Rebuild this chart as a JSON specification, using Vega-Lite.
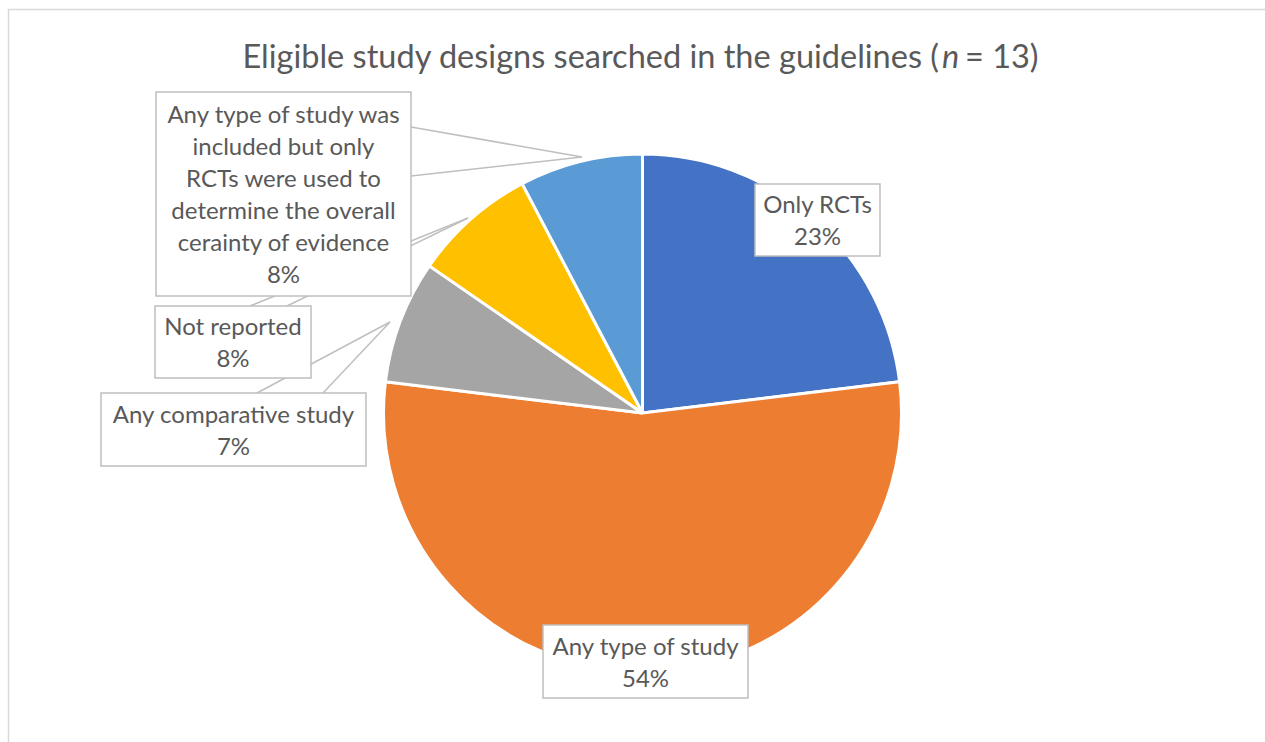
{
  "$schema": "https://vega.github.io/schema/vega-lite/v6.json",
  "width": 1265,
  "height": 742,
  "padding": 0,
  "autosize": {"type": "none"},
  "background": "white",
  "config": {"view": {"stroke": null}},
  "datasets": {
    "slices": [
      {"design": "Only RCTs", "count": 3, "idx": 1},
      {"design": "Any type of study", "count": 7, "idx": 2},
      {"design": "Any comparative study", "count": 1, "idx": 3},
      {"design": "Not reported", "count": 1, "idx": 4},
      {"design": "Any type of study was included but only RCTs were used to determine the overall cerainty of evidence", "count": 1, "idx": 5}
    ],
    "boxes": [
      {"label": "Only RCTs|23%", "bx1": 755, "bx2": 880, "by1": 184, "by2": 256},
      {"label": "Any type of study|54%", "bx1": 543, "bx2": 748, "by1": 625, "by2": 698},
      {"label": "Any comparative study|7%", "bx1": 101, "bx2": 366, "by1": 393, "by2": 466},
      {"label": "Not reported|8%", "bx1": 155, "bx2": 311, "by1": 306, "by2": 378},
      {"label": "Any type of study was|included but only|RCTs were used to|determine the overall|cerainty of evidence|8%", "bx1": 156, "bx2": 411, "by1": 92, "by2": 296}
    ],
    "leaders": [
      {"sx": 411, "sy": 127, "ex": 582, "ey": 157},
      {"sx": 411, "sy": 176, "ex": 582, "ey": 157},
      {"sx": 250, "sy": 306, "ex": 468, "ey": 218},
      {"sx": 287, "sy": 306, "ex": 468, "ey": 218},
      {"sx": 257, "sy": 393, "ex": 390, "ey": 322},
      {"sx": 323, "sy": 393, "ex": 390, "ey": 322}
    ]
  },
  "layer": [
    {
      "data": {"values": [{}]},
      "mark": {"type": "rect", "fill": null, "stroke": "#d9d9d9", "strokeWidth": 1.5},
      "encoding": {
        "x": {"datum": 8.5, "type": "quantitative", "scale": {"domain": [0, 1265]}, "axis": null},
        "x2": {"datum": 1300},
        "y": {"datum": 9.5, "type": "quantitative", "scale": {"domain": [0, 742], "reverse": true}, "axis": null},
        "y2": {"datum": 800}
      }
    },
    {
      "data": {"name": "slices"},
      "mark": {"type": "arc", "radius": 259, "stroke": "white", "strokeWidth": 3},
      "encoding": {
        "x": {"datum": 642.5, "type": "quantitative", "scale": {"domain": [0, 1265]}, "axis": null},
        "y": {"datum": 413, "type": "quantitative", "scale": {"domain": [0, 742], "reverse": true}, "axis": null},
        "theta": {"field": "count", "type": "quantitative", "stack": true},
        "order": {"field": "idx", "type": "quantitative"},
        "color": {
          "field": "design", "type": "nominal", "legend": null,
          "scale": {
            "domain": ["Only RCTs", "Any type of study", "Any comparative study", "Not reported", "Any type of study was included but only RCTs were used to determine the overall cerainty of evidence"],
            "range": ["#4472C4", "#ED7D31", "#A5A5A5", "#FFC000", "#5B9BD5"]
          }
        }
      }
    },
    {
      "data": {"name": "leaders"},
      "mark": {"type": "rule", "stroke": "#bfbfbf", "strokeWidth": 1.5},
      "encoding": {
        "x": {"field": "sx", "type": "quantitative", "scale": {"domain": [0, 1265]}, "axis": null},
        "y": {"field": "sy", "type": "quantitative", "scale": {"domain": [0, 742], "reverse": true}, "axis": null},
        "x2": {"field": "ex"},
        "y2": {"field": "ey"}
      }
    },
    {
      "data": {"name": "boxes"},
      "mark": {"type": "rect", "fill": "white", "stroke": "#bfbfbf", "strokeWidth": 1.5},
      "encoding": {
        "x": {"field": "bx1", "type": "quantitative", "scale": {"domain": [0, 1265]}, "axis": null},
        "x2": {"field": "bx2"},
        "y": {"field": "by1", "type": "quantitative", "scale": {"domain": [0, 742], "reverse": true}, "axis": null},
        "y2": {"field": "by2"}
      }
    },
    {
      "data": {"name": "boxes"},
      "transform": [
        {"calculate": "(datum.bx1 + datum.bx2) / 2", "as": "cx"},
        {"calculate": "(datum.by1 + datum.by2) / 2 + 2 - (length(split(datum.label, '|')) - 1) * 16", "as": "cy"}
      ],
      "mark": {"type": "text", "font": "Lato", "fontSize": 24, "color": "#595959", "lineBreak": "|", "lineHeight": 32, "align": "center", "baseline": "middle"},
      "encoding": {
        "x": {"field": "cx", "type": "quantitative", "scale": {"domain": [0, 1265]}, "axis": null},
        "y": {"field": "cy", "type": "quantitative", "scale": {"domain": [0, 742], "reverse": true}, "axis": null},
        "text": {"field": "label", "type": "nominal"}
      }
    },
    {
      "data": {"values": [{"t": "Eligible study designs searched in the guidelines ("}]},
      "mark": {"type": "text", "font": "Lato", "fontSize": 32.5, "color": "#595959", "align": "right", "baseline": "alphabetic"},
      "encoding": {
        "x": {"datum": 939, "type": "quantitative", "scale": {"domain": [0, 1265]}, "axis": null},
        "y": {"datum": 68, "type": "quantitative", "scale": {"domain": [0, 742], "reverse": true}, "axis": null},
        "text": {"field": "t", "type": "nominal"}
      }
    },
    {
      "data": {"values": [{"t": "n"}]},
      "mark": {"type": "text", "font": "Lato", "fontSize": 32.5, "fontStyle": "italic", "color": "#595959", "align": "left", "baseline": "alphabetic"},
      "encoding": {
        "x": {"datum": 942, "type": "quantitative", "scale": {"domain": [0, 1265]}, "axis": null},
        "y": {"datum": 68, "type": "quantitative", "scale": {"domain": [0, 742], "reverse": true}, "axis": null},
        "text": {"field": "t", "type": "nominal"}
      }
    },
    {
      "data": {"values": [{"t": "= 13)"}]},
      "mark": {"type": "text", "font": "Lato", "fontSize": 32.5, "color": "#595959", "align": "left", "baseline": "alphabetic"},
      "encoding": {
        "x": {"datum": 965, "type": "quantitative", "scale": {"domain": [0, 1265]}, "axis": null},
        "y": {"datum": 68, "type": "quantitative", "scale": {"domain": [0, 742], "reverse": true}, "axis": null},
        "text": {"field": "t", "type": "nominal"}
      }
    }
  ]
}
